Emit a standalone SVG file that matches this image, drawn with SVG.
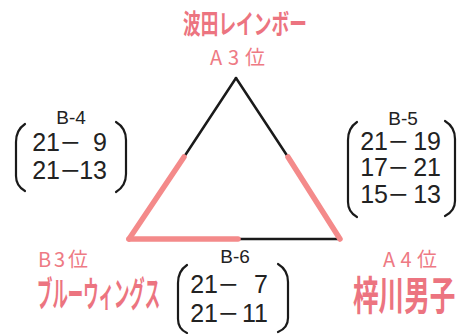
<svg xmlns="http://www.w3.org/2000/svg" width="465" height="334" viewBox="0 0 465 334">
<style>
.team{font-family:"Noto Sans CJK JP","Noto Sans",sans-serif;font-weight:700;fill:#ec7480}
.rank{font-family:"Noto Sans CJK JP","Noto Sans",sans-serif;font-weight:400;fill:#ee7a84;font-size:20px}
.sc{font-family:"Liberation Sans","Noto Sans",sans-serif;fill:#222;font-size:25px}
.lbl{font-family:"Liberation Sans","Noto Sans",sans-serif;fill:#222;font-size:19px;text-anchor:middle}
.blk{stroke:#1a1a1a;stroke-width:2.5;fill:none;stroke-linecap:round}
.pnk{stroke:#f48a8a;stroke-width:5.5;fill:none;stroke-linecap:round}
.br{stroke:#1a1a1a;stroke-width:2.2;fill:none;stroke-linecap:round}
.e{text-anchor:end}
</style>
<rect width="465" height="334" fill="#fff"/>
<g id="connectors">
<line class="blk" x1="236" y1="78" x2="184" y2="157"/>
<line class="blk" x1="236" y1="78" x2="288" y2="157"/>
<line class="blk" x1="238" y1="239" x2="340" y2="239"/>
<line class="pnk" x1="184" y1="157" x2="129" y2="239"/>
<line class="pnk" x1="288" y1="157" x2="340" y2="239"/>
<line class="pnk" x1="129" y1="239" x2="238" y2="239"/>
</g>
<g id="node-hada">
<text class="team" font-size="27" transform="translate(183,34) scale(0.656,1)">波田レインボー</text>
<text class="rank" x="210" y="65" textLength="55" lengthAdjust="spacing">A3位</text>
</g>
<g id="node-blue">
<text class="rank" x="38" y="267" textLength="50" lengthAdjust="spacing">B3位</text>
<text class="team" font-size="35" transform="translate(37,307) scale(0.44,1)">ブルーウィングス</text>
</g>
<g id="node-azusa">
<text class="rank" x="383" y="267" textLength="54" lengthAdjust="spacing">A4位</text>
<text class="team" font-size="40" transform="translate(353,310) scale(0.64,1)">梓川男子</text>
</g>
<g id="score-b4">
<text class="lbl" x="71" y="124">B-4</text>
<path class="br" d="M25,124 Q16,130 16,142 L16,176 Q16,186 25,191"/>
<path class="br" d="M116,122 Q126,128 126,140 L126,174 Q126,186 116,192"/>
<text class="sc" y="151"><tspan class="e" x="60">21</tspan><tspan x="61" textLength="19" lengthAdjust="spacingAndGlyphs">−</tspan><tspan class="e" x="107">9</tspan></text>
<text class="sc" y="179"><tspan class="e" x="60">21</tspan><tspan x="61" textLength="19" lengthAdjust="spacingAndGlyphs">−</tspan><tspan class="e" x="107">13</tspan></text>
</g>
<g id="score-b5">
<text class="lbl" x="403" y="125">B-5</text>
<path class="br" d="M357,122 Q348,128 348,140 L348,202 Q348,212 357,217"/>
<path class="br" d="M445,121 Q455,127 455,139 L455,201 Q455,211 445,216"/>
<text class="sc" y="150"><tspan class="e" x="388">21</tspan><tspan x="389" textLength="19" lengthAdjust="spacingAndGlyphs">−</tspan><tspan class="e" x="441">19</tspan></text>
<text class="sc" y="176"><tspan class="e" x="388">17</tspan><tspan x="389" textLength="19" lengthAdjust="spacingAndGlyphs">−</tspan><tspan class="e" x="441">21</tspan></text>
<text class="sc" y="203"><tspan class="e" x="388">15</tspan><tspan x="389" textLength="19" lengthAdjust="spacingAndGlyphs">−</tspan><tspan class="e" x="441">13</tspan></text>
</g>
<g id="score-b6">
<text class="lbl" x="235" y="263">B-6</text>
<path class="br" d="M187,265 Q178,271 178,283 L178,319 Q178,329 187,333"/>
<path class="br" d="M278,264 Q288,270 288,282 L288,318 Q288,328 278,332"/>
<text class="sc" y="293"><tspan class="e" x="218">21</tspan><tspan x="219" textLength="19" lengthAdjust="spacingAndGlyphs">−</tspan><tspan class="e" x="268">7</tspan></text>
<text class="sc" y="322"><tspan class="e" x="218">21</tspan><tspan x="219" textLength="19" lengthAdjust="spacingAndGlyphs">−</tspan><tspan class="e" x="268">11</tspan></text>
</g>
</svg>
